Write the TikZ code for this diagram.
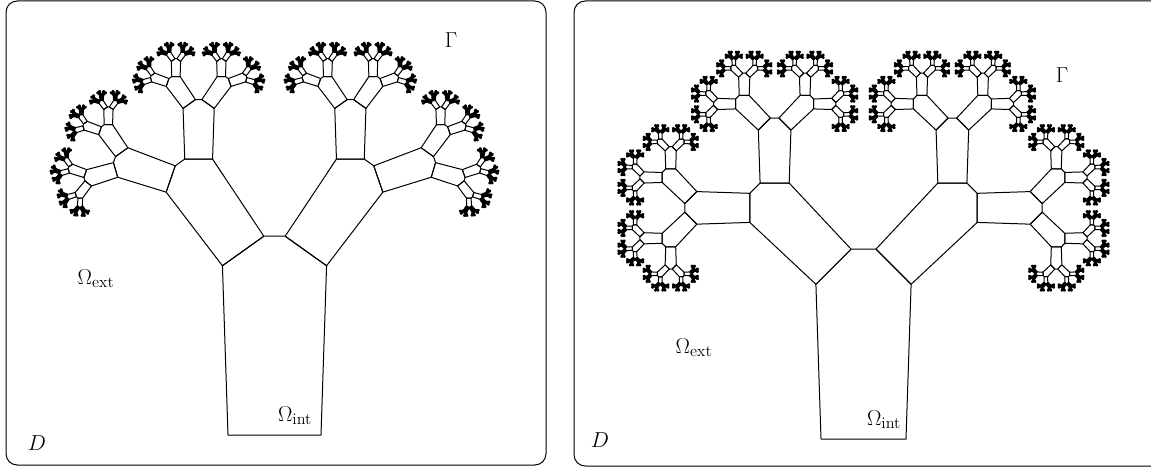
\documentclass[tikz,border=0pt]{standalone}
\usepackage{amsmath}
\usepackage{amssymb}
\tikzset{
	frame/.style = {line width = 0.8pt, rounded corners = 9},
	treeline/.style = {line width = 0.8pt, line join = round},
	treetip/.style = {line width = 1.7pt, line join = round, fill = black},
	lab/.style = {font = \fontsize{18.5}{20}\selectfont, inner sep = 0pt}
}
% one cell of the tree on the base (0,0) -- (100,0), then its two children
\newcommand{\treecell}[1]{
	\ifnum#1<\treesolid
		\draw[treetip] (0,0) -- (-6,182) -- (\tipL,\tipH) -- (\tipR,\tipH) -- (106,182) -- (100,0) -- cycle;
	\else
		\draw[treeline] (0,0) -- (-6,182) -- (\tipL,\tipH) -- (\tipR,\tipH) -- (106,182) -- (100,0) -- cycle;
	\fi
	\ifnum#1>0
		\begin{scope}[shift={(-6,182)}, rotate=\treeangle, scale=\treeratio]
			\treecell{\the\numexpr#1-1\relax}
		\end{scope}
		\begin{scope}[shift={(\tipR,\tipH)}, rotate=-\treeangle, scale=\treeratio]
			\treecell{\the\numexpr#1-1\relax}
		\end{scope}
	\fi
}
\newcommand{\treesetup}[3]{
	\def\treeangle{#1}
	\def\treeratio{#2}
	\def\treesolid{#3}
	\pgfmathsetmacro{\tipL}{-6+100*#2*cos(#1)}
	\pgfmathsetmacro{\tipR}{106-100*#2*cos(#1)}
	\pgfmathsetmacro{\tipH}{182+100*#2*sin(#1)}
}

\begin{document}
\begin{tikzpicture}[x=0.8pt, y=0.8pt]
	\useasboundingbox (0,0) rectangle (1151,467);

	\draw[frame] (6,2) rectangle (546,466);
	\draw[frame] (574,1) rectangle (1165,466);

	% left tree
	\begin{scope}[shift={(228,32)}, scale=0.93]
		\treesetup{35.5}{0.547}{3}
		\treecell{8}
	\end{scope}

	% right tree
	\begin{scope}[shift={(821,28)}, scale=0.85]
		\treesetup{45}{0.585}{3}
		\treecell{9}
	\end{scope}

	\node[lab] (gammaL) at (451,427) {$\Gamma$};
	\node[lab] (extL) at (96,188) {$\Omega_{\text{ext}}$};
	\node[lab] (intL) at (295,51) {$\Omega_{\text{int}}$};
	\node[lab] (domL) at (37,24) {$D$};

	\node[lab] (gammaR) at (1062,392) {$\Gamma$};
	\node[lab] (extR) at (694,119) {$\Omega_{\text{ext}}$};
	\node[lab] (intR) at (884,47) {$\Omega_{\text{int}}$};
	\node[lab] (domR) at (600,27) {$D$};
\end{tikzpicture}
\end{document}
